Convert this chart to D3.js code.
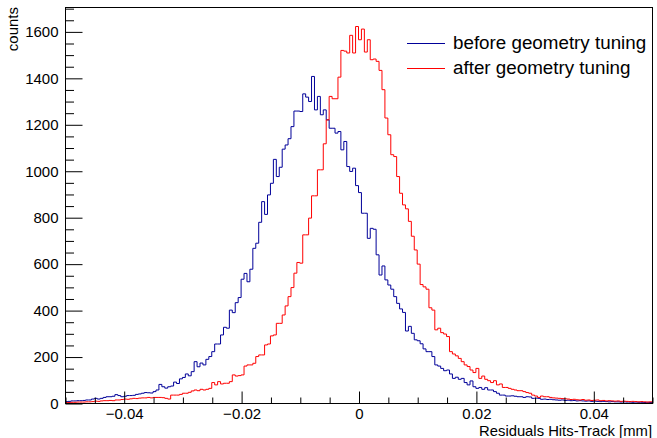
<!DOCTYPE html>
<html>
<head>
<meta charset="utf-8">
<script src="https://cdn.jsdelivr.net/npm/d3@7"></script>
<style>
  body { margin: 0; background: #fff; }
  svg { display: block; }
  text { font-family: "Liberation Sans", Arial, Helvetica, sans-serif; fill: #000; }
</style>
</head>
<body>
<svg id="chart" width="657" height="438"></svg>
<script>
// Histogram binning: 200 bins from -0.05 to 0.05 mm
const xMin = -0.05, xMax = 0.05, nBins = 200;
const yMax = 1705;

// Residual counts per bin, before geometry tuning
const before = [
  6,7,9,9,10,10,11,13,13,17,
  20,17,20,24,27,27,29,36,32,27,
  29,32,32,33,37,39,42,45,44,43,
  49,56,80,70,64,70,73,90,84,104,
  110,125,117,135,178,156,172,164,188,200,
  221,254,254,293,326,322,400,389,432,454,
  533,558,522,576,666,688,778,867,812,896,
  946,1049,975,1015,1093,1111,1138,1190,1257,1257,
  1255,1331,1317,1298,1406,1262,1320,1241,1262,1219,
  1183,1183,1162,1169,1090,1126,1018,997,1011,936,
  906,817,817,709,752,748,638,551,590,530,
  508,490,458,429,405,390,310,330,300,272,
  268,255,233,221,221,200,164,159,149,139,
  142,125,106,111,102,106,88,78,95,70,
  63,67,59,66,56,56,49,42,34,34,
  30,30,31,29,27,27,24,27,26,20,
  21,20,16,17,15,16,14,13,12,13,
  11,12,10,11,9,10,9,8,9,7,
  8,7,6,7,6,5,6,5,5,4,
  5,4,4,3,4,3,3,2,3,2
];

// Residual counts per bin, after geometry tuning
const after = [
  2,2,3,3,4,4,4,5,5,6,
  8,7,9,10,10,11,10,13,13,15,
  17,16,18,20,19,21,22,22,24,22,
  24,24,24,23,20,17,34,34,34,37,
  42,42,46,52,56,53,59,56,59,63,
  88,78,92,82,85,85,92,121,116,118,
  121,159,164,164,171,200,207,207,250,254,
  289,293,343,343,379,418,458,497,559,605,
  602,724,724,796,892,892,1004,1004,1116,1219,
  1320,1310,1310,1403,1518,1515,1507,1583,1507,1621,
  1564,1610,1511,1564,1478,1481,1471,1432,1349,1227,
  1155,1069,1061,975,903,853,836,782,718,659,
  598,510,500,490,410,400,315,322,303,297,
  286,221,211,203,192,178,164,157,142,131,
  149,106,116,102,96,88,96,78,82,67,
  67,63,59,56,53,53,49,45,42,34,
  30,24,30,27,27,24,22,21,20,19,
  18,17,15,16,14,13,15,12,13,11,
  12,13,10,11,9,10,9,8,9,7,
  8,7,6,7,6,5,6,5,4,5
];

const xMajor = [-0.04, -0.02, 0, 0.02, 0.04];
const yMajor = [0, 200, 400, 600, 800, 1000, 1200, 1400, 1600];
const seriesNames = ["before geometry tuning", "after geometry tuning"];
const seriesColors = ["#000099", "#ff0000"];

const svg = d3.select("#chart");
const frame = { left: 65, right: 652, top: 7, bottom: 403 };

const x = d3.scaleLinear().domain([xMin, xMax]).range([frame.left, frame.right]);
const y = d3.scaleLinear().domain([0, yMax]).range([frame.bottom, frame.top]);

const binW = (xMax - xMin) / nBins;
const xMinor = d3.range(-0.05, 0.0501, 0.005).map(v => +v.toFixed(4)).filter(v => !xMajor.includes(v));
const yMinor = d3.range(0, yMax, 50).filter(v => v % 200 !== 0);

// Step outline of a histogram
function stepPath(vals) {
  const pts = vals.map((v, i) => [xMin + i * binW, v]);
  pts.push([xMax, vals[vals.length - 1]]);
  return d3.line().x(d => x(d[0])).y(d => y(d[1])).curve(d3.curveStepAfter)(pts);
}

const plot = svg.append("g");
[before, after].forEach((vals, k) => {
  plot.append("path")
    .attr("d", stepPath(vals))
    .attr("fill", "none")
    .attr("stroke", seriesColors[k])
    .attr("stroke-width", 1);
});

// Frame
svg.append("rect")
  .attr("x", frame.left + 0.5).attr("y", frame.top + 0.5)
  .attr("width", frame.right - frame.left).attr("height", frame.bottom - frame.top)
  .attr("fill", "none").attr("stroke", "#000").attr("stroke-width", 1);

// X axis (ticks pointing into the frame)
const fmtX = d => d === 0 ? "0" : d3.format(".2f")(d);
const gx = svg.append("g").attr("transform", `translate(0.5,${frame.bottom + 0.5})`);
gx.call(d3.axisBottom(x).tickValues(xMajor).tickSize(-12).tickSizeOuter(0).tickPadding(5).tickFormat(fmtX));
gx.append("g").call(d3.axisBottom(x).tickValues(xMinor).tickSize(-6).tickSizeOuter(0).tickFormat(""));
gx.selectAll(".domain").remove();
gx.selectAll("text").attr("font-size", 15).style("font-family", '"Liberation Sans", Arial, sans-serif');

// Y axis
const gy = svg.append("g").attr("transform", `translate(${frame.left + 0.5},0.5)`);
gy.call(d3.axisLeft(y).tickValues(yMajor).tickSize(-17).tickSizeOuter(0).tickPadding(7).tickFormat(d3.format("d")));
gy.append("g").call(d3.axisLeft(y).tickValues(yMinor).tickSize(-8.5).tickSizeOuter(0).tickFormat(""));
gy.selectAll(".domain").remove();
gy.selectAll("text").attr("font-size", 15).style("font-family", '"Liberation Sans", Arial, sans-serif');

// Axis titles
svg.append("text")
  .attr("x", frame.right).attr("y", 435.5)
  .attr("text-anchor", "end").attr("font-size", 14.8)
  .text("Residuals Hits-Track [mm]");
svg.append("text")
  .attr("transform", `translate(18,${frame.top}) rotate(-90)`)
  .attr("text-anchor", "end").attr("font-size", 15)
  .text("counts");

// Legend
const legend = svg.append("g");
seriesNames.forEach((name, k) => {
  const ly = 43.5 + k * 25;
  legend.append("line")
    .attr("x1", 407).attr("x2", 445).attr("y1", ly).attr("y2", ly)
    .attr("stroke", seriesColors[k]).attr("stroke-width", 1);
  legend.append("text")
    .attr("x", 453).attr("y", ly + 5)
    .attr("font-size", 18.8)
    .text(name);
});
</script>
</body>
</html>
